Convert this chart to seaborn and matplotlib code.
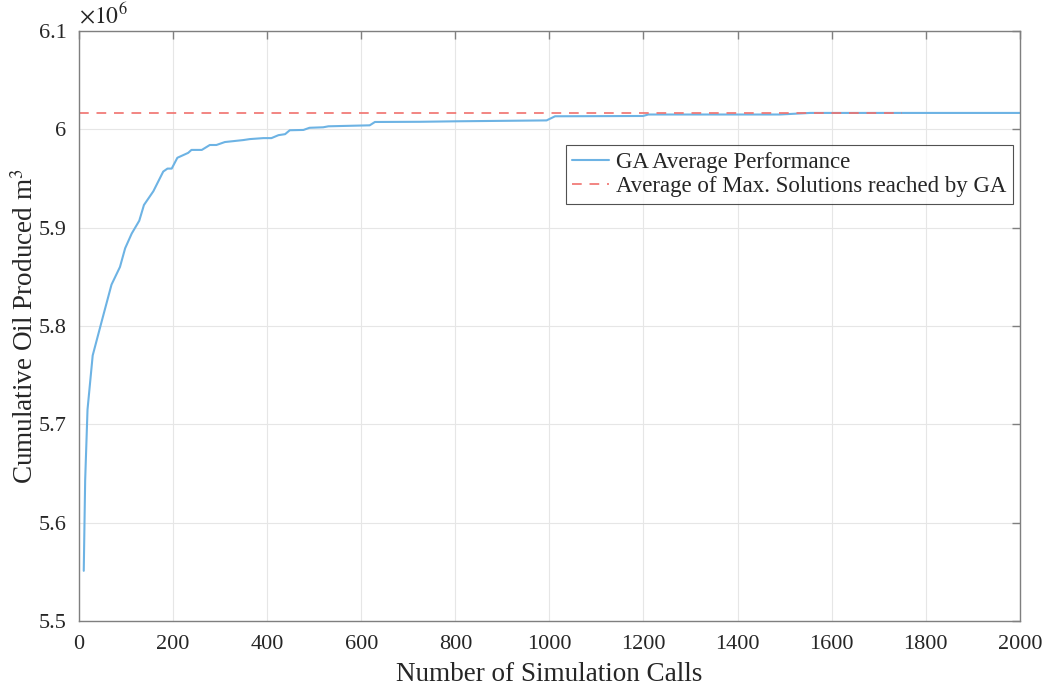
import numpy as np
import pandas as pd
import seaborn as sns
import matplotlib
matplotlib.use("Agg")
import matplotlib.pyplot as plt
from matplotlib.ticker import FuncFormatter

# dados (milhoes de m3)
sim_calls = [10, 13, 18, 29, 50, 69, 87, 98, 112, 128, 138, 158, 179, 188, 197, 209,
             232, 239, 261, 278, 292, 310, 349, 363, 392, 409, 424, 438, 448, 477,
             490, 519, 530, 618, 629, 725, 803, 994, 1012, 1199, 1210, 1490, 1554, 2000]
oil_avg = [5.551, 5.643, 5.715, 5.770, 5.808, 5.842, 5.860, 5.879, 5.894, 5.907, 5.923,
           5.937, 5.957, 5.960, 5.960, 5.971, 5.976, 5.979, 5.979, 5.984, 5.984, 5.987,
           5.989, 5.990, 5.991, 5.991, 5.994, 5.995, 5.999, 5.9993, 6.0015, 6.002, 6.003,
           6.004, 6.0074, 6.0076, 6.0081, 6.009, 6.0132, 6.0135, 6.0150, 6.0150, 6.0166,
           6.0166]
max_avg_x = [0, 1750]
max_avg_y = [6.0162, 6.0162]

df_ga = pd.DataFrame({"calls": sim_calls, "oil": np.array(oil_avg) * 1e6})
df_max = pd.DataFrame({"calls": max_avg_x, "oil": np.array(max_avg_y) * 1e6})

sns.set_style("whitegrid")
plt.rcParams["font.family"] = ["Liberation Serif", "DejaVu Serif"]
plt.rcParams["mathtext.fontset"] = "stix"

fig = plt.figure(figsize=(10.47, 6.87), dpi=100)
ax = fig.add_axes([0.0755, 0.0961, 0.8985, 0.8589])

sns.lineplot(data=df_ga, x="calls", y="oil", ax=ax, color="#6db3e4", linewidth=1.5,
             label="GA Average Performance")
sns.lineplot(data=df_max, x="calls", y="oil", ax=ax, color="#f0706c", linewidth=1.4,
             linestyle=(0, (5, 4)), alpha=0.85, label="Average of Max. Solutions reached by GA")

ax.set_xlim(0, 2000)
ax.set_ylim(5.5e6, 6.1e6)
ax.set_xticks(np.arange(0, 2001, 200))
ax.set_yticks(np.arange(5.5e6, 6.11e6, 0.1e6))
ax.yaxis.set_major_formatter(FuncFormatter(lambda v, p: "%g" % round(v / 1e6, 2)))
ax.grid(True, color="#e6e6e6", linewidth=0.8)
for s in ax.spines.values():
    s.set_color("#7f7f7f")
    s.set_linewidth(1.0)
ax.tick_params(direction="in", length=6, width=1.0, color="#7f7f7f", labelsize=16,
               labelcolor="#262626", top=True, right=True)
ax.tick_params(axis="x", pad=10)
ax.tick_params(axis="y", pad=9)

ax.set_xlabel("Number of Simulation Calls", fontsize=19.5, color="#262626", labelpad=6)
ax.set_ylabel("Cumulative Oil Produced m$^3$", fontsize=19.5, color="#262626", labelpad=0)
ax.text(0.0, 1.005, r"$\times10^6$", transform=ax.transAxes, fontsize=17,
        color="#262626", ha="left", va="bottom")

leg = ax.legend(loc="upper right", bbox_to_anchor=(0.993, 0.807), fontsize=16.5,
                frameon=True, fancybox=False, handlelength=1.6, handletextpad=0.3,
                borderpad=0.3, labelspacing=0.15, borderaxespad=0)
leg.get_frame().set_edgecolor("#262626")
leg.get_frame().set_linewidth(0.8)
for t in leg.get_texts():
    t.set_color("#262626")

fig.savefig("out.png", dpi=100)
